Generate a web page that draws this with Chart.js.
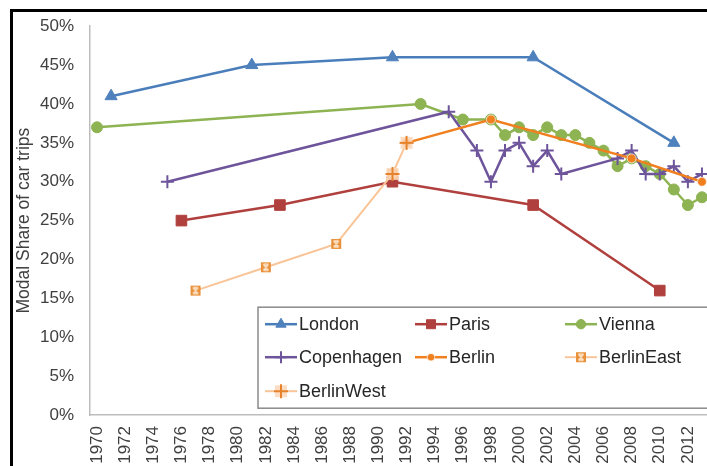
<!DOCTYPE html>
<html>
<head>
<meta charset="utf-8">
<script src="https://cdn.jsdelivr.net/npm/chart.js"></script>
<style>
  html, body { margin: 0; padding: 0; background: #fff; }
  #frame { position: relative; width: 707px; height: 466px; overflow: hidden; background: #fff; }
  #wrap { position: absolute; left: 0; top: 0; width: 720px; height: 466px; }
  .edge { position: absolute; background: #000; z-index: 2; }
</style>
</head>
<body>
<div id="frame">
  <div id="wrap"><canvas id="chart"></canvas></div>
  <div class="edge" style="left:10px; top:9px; width:700px; height:3px;"></div>
  <div class="edge" style="left:10px; top:9px; width:3px; height:460px;"></div>
</div>
<script>
const seriesNames = ['London', 'Paris', 'Vienna', 'Copenhagen', 'Berlin', 'BerlinEast', 'BerlinWest'];

const londonYears = [1971, 1981, 1991, 2001, 2011];
const londonShare = [41, 45, 46, 46, 35];

const parisYears = [1976, 1983, 1991, 2001, 2010];
const parisShare = [25, 27, 30, 27, 16];

const viennaYears = [1970, 1993, 1996, 1998, 1999, 2000, 2001, 2002, 2003, 2004, 2005, 2006, 2007, 2008, 2009, 2010, 2011, 2012, 2013];
const viennaShare = [37, 40, 38, 38, 36, 37, 36, 37, 36, 36, 35, 34, 32, 33, 32, 31, 29, 27, 28];

const copenhagenYears = [1975, 1995, 1997, 1998, 1999, 2000, 2001, 2002, 2003, 2007, 2008, 2009, 2010, 2011, 2012, 2013];
const copenhagenShare = [30, 39, 34, 30, 34, 35, 32, 34, 31, 33, 34, 31, 31, 32, 30, 31];

const berlinYears = [1992, 1998, 2008, 2013];
const berlinShare = [35, 38, 33, 30];

const berlinEastYears = [1977, 1982, 1987, 1991];
const berlinEastShare = [16, 19, 22, 31];

const berlinWestYears = [1991, 1992];
const berlinWestShare = [31, 35];

const yearTicks = [1970, 1972, 1974, 1976, 1978, 1980, 1982, 1984, 1986, 1988, 1990,
  1992, 1994, 1996, 1998, 2000, 2002, 2004, 2006, 2008, 2010, 2012];

const pairs = (xs, ys) => xs.map((x, i) => ({ x: x, y: ys[i] }));

// little marker images for the two Berlin sub-series
function eastMarker() {
  const c = document.createElement('canvas');
  c.width = 12; c.height = 12;
  const g = c.getContext('2d');
  g.fillStyle = '#E8913A';
  g.fillRect(1, 1, 10, 10);
  g.strokeStyle = '#FDE6CF';
  g.lineWidth = 1.6;
  g.beginPath();
  g.moveTo(3.5, 3); g.lineTo(8.5, 9);
  g.moveTo(8.5, 3); g.lineTo(3.5, 9);
  g.moveTo(3.5, 3); g.lineTo(8.5, 3);
  g.moveTo(3.5, 9); g.lineTo(8.5, 9);
  g.stroke();
  return c;
}

function westMarker() {
  const c = document.createElement('canvas');
  c.width = 16; c.height = 16;
  const g = c.getContext('2d');
  g.fillStyle = 'rgba(252, 215, 185, 0.85)';
  g.fillRect(2, 2, 12, 12);
  g.strokeStyle = '#E5822B';
  g.lineWidth = 2;
  g.beginPath();
  g.moveTo(1, 8); g.lineTo(15, 8);
  g.moveTo(8, 1); g.lineTo(8, 15);
  g.stroke();
  return c;
}

const styles = [
  { color: '#4A7EBB', fill: '#4F81BD', pointStyle: 'triangle', radius: 7, width: 2.5 },
  { color: '#B0403D', fill: '#B0403D', pointStyle: 'rect', radius: 7.5, width: 2.5 },
  { color: '#8DB352', fill: '#8DB352', pointStyle: 'circle', radius: 5.5, width: 2.5 },
  { color: '#6E559B', fill: '#6E559B', pointStyle: 'cross', radius: 6.5, width: 2.5 },
  { color: '#F0801F', fill: '#F0801F', pointStyle: 'circle', radius: 4.5, width: 2.5 },
  { color: '#F9C497', fill: '#E8913A', pointStyle: eastMarker(), radius: 6, width: 2 },
  { color: '#F9C497', fill: '#E5822B', pointStyle: westMarker(), radius: 8, width: 2 }
];

const seriesData = [
  pairs(londonYears, londonShare),
  pairs(parisYears, parisShare),
  pairs(viennaYears, viennaShare),
  pairs(copenhagenYears, copenhagenShare),
  pairs(berlinYears, berlinShare),
  pairs(berlinEastYears, berlinEastShare),
  pairs(berlinWestYears, berlinWestShare)
];

const datasets = seriesNames.map((name, i) => ({
  label: name,
  data: seriesData[i],
  borderColor: styles[i].color,
  backgroundColor: styles[i].fill,
  borderWidth: styles[i].width,
  pointStyle: styles[i].pointStyle,
  pointRadius: styles[i].radius,
  pointBorderColor: i === 4 ? 'rgba(255,255,255,0.7)' : styles[i].fill,
  pointBackgroundColor: styles[i].fill,
  pointBorderWidth: i === 3 ? 2 : 1,
  tension: 0,
  clip: false,
  order: seriesNames.length - i // later series on top, like the original
}));

// legend box drawn inside the plot, three per row
const boxLegend = {
  id: 'boxLegend',
  afterDraw(chart) {
    const ctx = chart.ctx;
    const a = chart.chartArea;
    const left = a.left + 168;
    const top = a.top + 281;
    ctx.save();
    ctx.fillStyle = '#fff';
    ctx.strokeStyle = '#8a8a8a';
    ctx.lineWidth = 1.5;
    ctx.fillRect(left, top, 480, 101);
    ctx.strokeRect(left, top, 480, 101);
    const rows = [top + 17, top + 50, top + 84];
    chart.data.datasets.forEach((ds, i) => {
      const x0 = left + 7 + (i % 3) * 150;
      const y = rows[Math.floor(i / 3)];
      ctx.strokeStyle = ds.borderColor;
      ctx.lineWidth = ds.borderWidth;
      ctx.beginPath();
      ctx.moveTo(x0, y);
      ctx.lineTo(x0 + 32, y);
      ctx.stroke();
      ctx.fillStyle = ds.pointBackgroundColor;
      ctx.strokeStyle = ds.pointBorderColor;
      ctx.lineWidth = ds.pointBorderWidth;
      Chart.helpers.drawPoint(ctx, {
        pointStyle: ds.pointStyle,
        radius: i === 3 ? 6 : ds.pointRadius * 0.85,
        rotation: 0,
        borderWidth: ds.pointBorderWidth
      }, x0 + 16, y);
      ctx.fillStyle = '#262626';
      ctx.font = '18px "Liberation Sans", Arial, sans-serif';
      ctx.textBaseline = 'middle';
      ctx.textAlign = 'left';
      ctx.fillText(ds.label, x0 + 34, y + 1);
    });
    ctx.restore();
  }
};

new Chart(document.getElementById('chart'), {
  type: 'line',
  data: { datasets: datasets },
  options: {
    responsive: true,
    maintainAspectRatio: false,
    animation: false,
    layout: {
      padding: { left: 10, top: 19, right: 11, bottom: 0 }
    },
    scales: {
      x: {
        type: 'linear',
        min: 1969.5,
        max: 2013.5,
        grid: { display: false, drawTicks: false },
        border: { display: true, color: '#bdbdbd', width: 1.5 },
        afterBuildTicks: (axis) => {
          axis.ticks = yearTicks.map(v => ({ value: v }));
        },
        afterFit: (scale) => { scale.height = 51; },
        ticks: {
          autoSkip: false,
          minRotation: 90,
          maxRotation: 90,
          padding: 11,
          color: '#404040',
          font: { family: '"Liberation Sans", Arial, sans-serif', size: 17 },
          callback: (v) => String(v)
        }
      },
      y: {
        min: 0,
        max: 50,
        grid: { display: false, drawTicks: false },
        border: { display: true, color: '#bdbdbd', width: 1.5 },
        afterFit: (scale) => { scale.width = 80; },
        ticks: {
          stepSize: 5,
          padding: 16,
          color: '#404040',
          font: { family: '"Liberation Sans", Arial, sans-serif', size: 17 },
          callback: (v) => v + '%'
        },
        title: {
          display: true,
          text: 'Modal Share of car trips',
          color: '#404040',
          padding: { top: 4, bottom: 0 },
          font: { family: '"Liberation Sans", Arial, sans-serif', size: 17.5 }
        }
      }
    },
    plugins: {
      legend: { display: false },
      title: { display: false },
      tooltip: { enabled: false }
    }
  },
  plugins: [boxLegend]
});
</script>
</body>
</html>
